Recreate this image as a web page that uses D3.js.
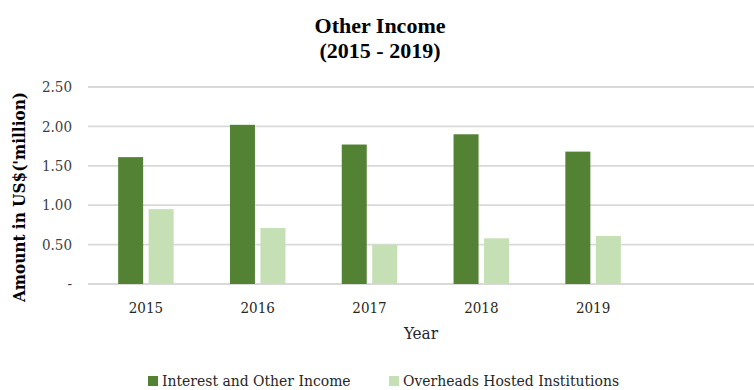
<!DOCTYPE html>
<html><head><meta charset="utf-8">
<script src="https://cdn.jsdelivr.net/npm/d3@7"></script>
<style>body{margin:0;background:#fff}svg{display:block}</style>
</head><body>
<script>
const years = ["2015","2016","2017","2018","2019",""];
const interestIncome = [1.61, 2.02, 1.77, 1.90, 1.68];
const overheads = [0.95, 0.71, 0.50, 0.58, 0.61];
const seriesNames = ["Interest and Other Income", "Overheads Hosted Institutions"];
const seriesColors = ["#548235", "#C5E0B4"];
const yTicks = [0, 0.5, 1.0, 1.5, 2.0, 2.5];
const yTickLabels = ["-", "0.50", "1.00", "1.50", "2.00", "2.50"];

const W = 754, H = 390;
const m = {left: 88, right: 0, top: 87, bottom: 106};
const svg = d3.select("body").append("svg").attr("width", W).attr("height", H);
const font = "'DejaVu Serif Condensed', 'DejaVu Serif', serif";
const tfont = "'Liberation Serif', serif";

const x = d3.scaleBand().domain(years).range([m.left + 2, m.left + 2 + 6 * 111.8]).paddingInner(0).paddingOuter(0);
const y = d3.scaleLinear().domain([0, 2.5]).range([H - m.bottom, m.top]);

// gridlines
svg.append("g").selectAll("line").data(yTicks).join("line")
  .attr("x1", m.left).attr("x2", W)
  .attr("y1", d => y(d)).attr("y2", d => y(d))
  .attr("stroke", "#d9d9d9").attr("stroke-width", 1.8);

// y tick labels
svg.append("g").selectAll("text").data(yTicks).join("text")
  .attr("x", 72).attr("y", d => y(d)).attr("dy", "0.35em")
  .attr("text-anchor", "end").attr("font-family", font).attr("font-size", 15)
  .attr("fill", "#404040").text((d, i) => yTickLabels[i]);

const bw = 25, gap = 5.5;
const data = years.slice(0, 5).map((yr, i) => ({yr, v: [interestIncome[i], overheads[i]]}));
const g = svg.append("g");
data.forEach(d => {
  const cx = x(d.yr) + x.bandwidth() / 2;
  d.v.forEach((v, k) => {
    const x0 = k === 0 ? cx - gap / 2 - bw : cx + gap / 2;
    g.append("rect").attr("x", x0).attr("width", bw)
      .attr("y", y(v)).attr("height", y(0) - y(v))
      .attr("fill", seriesColors[k]);
  });
});

// x labels
svg.append("g").selectAll("text").data(years.slice(0, 5)).join("text")
  .attr("x", d => x(d) + x.bandwidth() / 2).attr("y", 308).attr("dy", "0.35em")
  .attr("text-anchor", "middle").attr("font-family", font).attr("font-size", 15)
  .attr("fill", "#262626").text(d => d);

// axis titles
svg.append("text").attr("x", (m.left + W) / 2).attr("y", 333).attr("dy", "0.35em")
  .attr("text-anchor", "middle").attr("font-family", font).attr("font-size", 17)
  .attr("fill", "#262626").text("Year");
svg.append("text").attr("transform", `translate(19,${197}) rotate(-90)`).attr("dy", "0.35em")
  .attr("text-anchor", "middle").attr("font-family", font).attr("font-size", 17)
  .attr("font-weight", "bold").attr("fill", "#000").text("Amount in US$('million)");

// title
svg.append("text").attr("x", 380).attr("y", 25).attr("dy", "0.35em")
  .attr("text-anchor", "middle").attr("font-family", tfont).attr("font-size", 22)
  .attr("font-weight", "bold").attr("fill", "#000").text("Other Income");
svg.append("text").attr("x", 380).attr("y", 50).attr("dy", "0.35em")
  .attr("text-anchor", "middle").attr("font-family", tfont).attr("font-size", 22)
  .attr("font-weight", "bold").attr("fill", "#000").text("(2015 - 2019)");

// legend
const legX = [148, 389];
seriesNames.forEach((n, k) => {
  svg.append("rect").attr("x", legX[k]).attr("y", 376).attr("width", 10).attr("height", 10).attr("fill", seriesColors[k]);
  svg.append("text").attr("x", legX[k] + 14).attr("y", 381).attr("dy", "0.35em")
    .attr("font-family", font).attr("font-size", 15.5).attr("fill", "#262626").text(n);
});
</script>
</body></html>
